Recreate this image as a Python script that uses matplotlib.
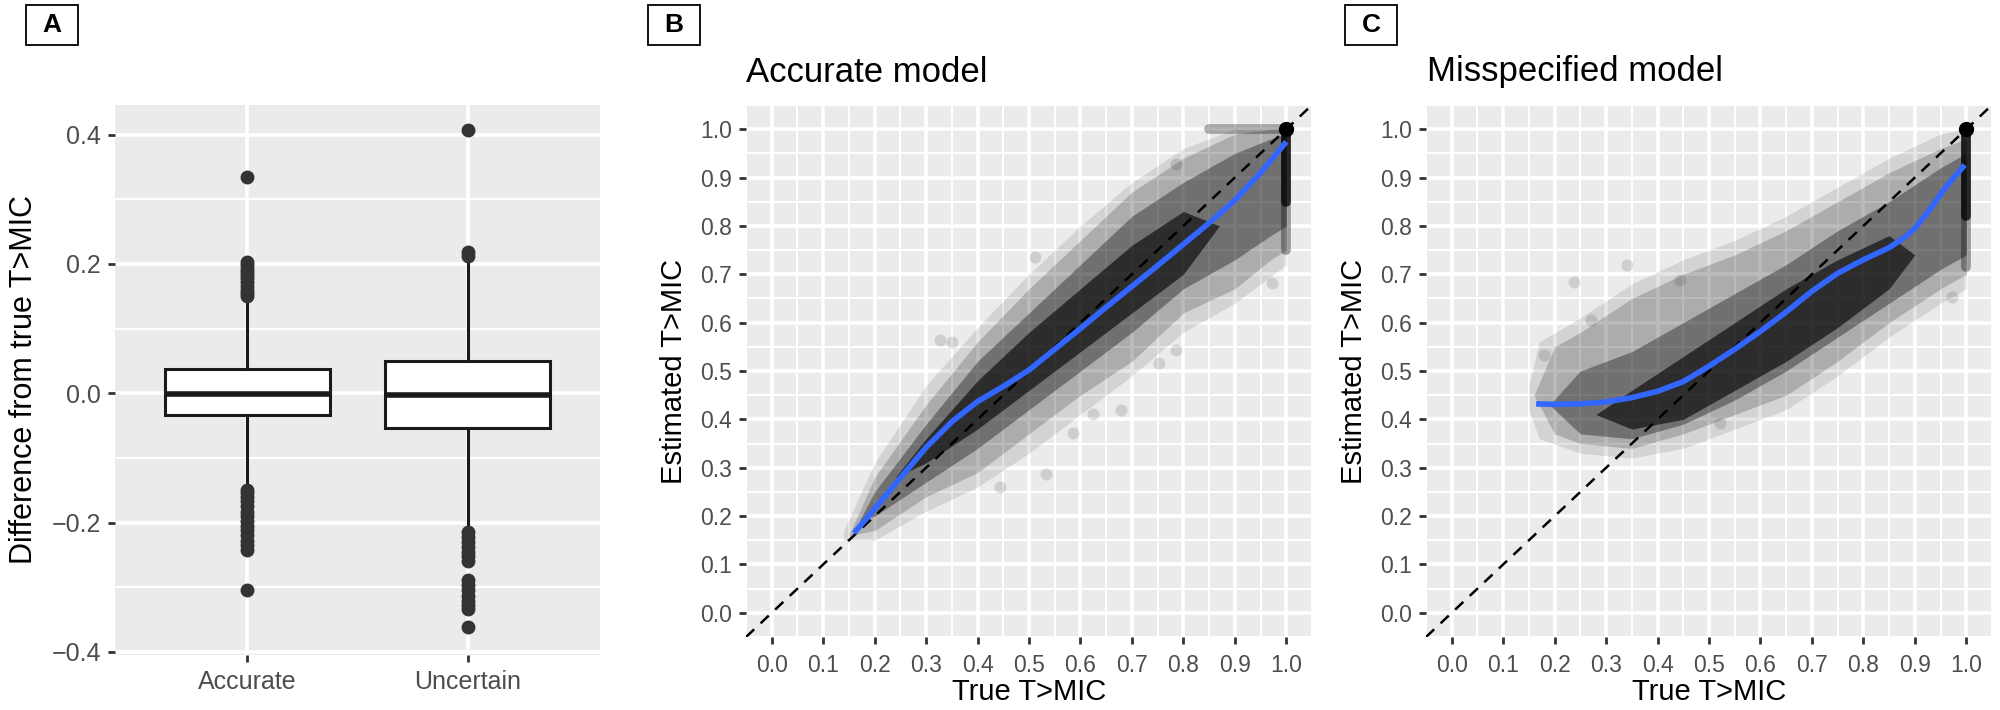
import matplotlib.pyplot as plt
from matplotlib.patches import Rectangle

plt.rcParams['font.family'] = ['Liberation Sans', 'DejaVu Sans']

W, H = 2000, 710

# ---- panel A: box summaries
groups = ['Accurate', 'Uncertain']
box_q1 = [-0.034, -0.0545]
box_med = [-0.001, -0.002]
box_q3 = [0.038, 0.0505]
whisk_lo = [-0.144, -0.212]
whisk_hi = [0.146, 0.208]
fliers_acc = [0.334, 0.203, 0.198, 0.193, 0.188, 0.183, 0.178, 0.172, 0.166,
              0.160, 0.155, 0.150, -0.150, -0.155, -0.160, -0.167, -0.175,
              -0.183, -0.190, -0.197, -0.205, -0.212, -0.220, -0.228, -0.235,
              -0.242, -0.305]
fliers_unc = [0.408, 0.218, 0.213, -0.215, -0.222, -0.230, -0.238, -0.245,
              -0.252, -0.260, -0.289, -0.297, -0.305, -0.313, -0.321, -0.328,
              -0.334, -0.362]

# ---- panel B: accurate model
b_loess_x = [0.16, 0.2, 0.25, 0.3, 0.35, 0.4, 0.45, 0.5, 0.55, 0.6, 0.65,
             0.7, 0.75, 0.8, 0.85, 0.9, 0.95, 1.0]
b_loess_y = [0.165, 0.215, 0.279, 0.342, 0.395, 0.437, 0.468, 0.502, 0.545,
             0.588, 0.632, 0.675, 0.718, 0.762, 0.806, 0.853, 0.91, 0.974]
b_fringe_x = [0.14, 0.2, 0.3, 0.4, 0.5, 0.6, 0.7, 0.8, 0.9, 1.0]
b_fringe_lo = [0.15, 0.15, 0.21, 0.26, 0.33, 0.41, 0.49, 0.58, 0.64, 0.72]
b_fringe_hi = [0.17, 0.31, 0.47, 0.59, 0.70, 0.80, 0.89, 0.96, 1.0, 1.0]
b_outer_x = [0.15, 0.2, 0.3, 0.4, 0.5, 0.6, 0.7, 0.8, 0.9, 0.97, 1.0]
b_outer_lo = [0.16, 0.17, 0.24, 0.29, 0.37, 0.45, 0.52, 0.62, 0.67, 0.73, 0.75]
b_outer_hi = [0.16, 0.28, 0.43, 0.56, 0.67, 0.77, 0.87, 0.94, 0.99, 1.0, 1.0]
b_mid_x = [0.17, 0.2, 0.3, 0.4, 0.5, 0.6, 0.7, 0.8, 0.9, 0.97, 1.0]
b_mid_lo = [0.19, 0.20, 0.27, 0.34, 0.42, 0.50, 0.58, 0.67, 0.73, 0.78, 0.80]
b_mid_hi = [0.19, 0.25, 0.39, 0.52, 0.62, 0.72, 0.82, 0.89, 0.95, 0.98, 0.99]
b_core_x = [0.24, 0.3, 0.4, 0.5, 0.6, 0.7, 0.8, 0.87]
b_core_lo = [0.28, 0.31, 0.38, 0.46, 0.54, 0.62, 0.70, 0.80]
b_core_hi = [0.28, 0.36, 0.48, 0.58, 0.67, 0.76, 0.83, 0.80]
b_strip_lo = [0.75, 0.85]      # vertical pile-up at true = 1.0
b_hstrip_x = [0.85, 1.0]       # horizontal pile-up at estimated = 1.0
b_pts_x = [0.328, 0.350, 0.444, 0.534, 0.585, 0.624, 0.679, 0.753, 0.785, 0.972, 0.785, 0.511]
b_pts_y = [0.564, 0.560, 0.260, 0.288, 0.371, 0.412, 0.419, 0.516, 0.543, 0.681, 0.929, 0.736]

# ---- panel C: misspecified model
c_loess_x = [0.164, 0.2, 0.25, 0.3, 0.35, 0.4, 0.45, 0.5, 0.55, 0.6, 0.65,
             0.7, 0.75, 0.8, 0.85, 0.88, 0.9, 0.93, 0.96, 0.997]
c_loess_y = [0.432, 0.431, 0.432, 0.436, 0.445, 0.458, 0.478, 0.510, 0.545,
             0.582, 0.622, 0.665, 0.702, 0.730, 0.755, 0.776, 0.795, 0.835,
             0.880, 0.926]
c_fringe_x = [0.15, 0.17, 0.25, 0.35, 0.45, 0.55, 0.65, 0.75, 0.85, 0.95, 1.0]
c_fringe_lo = [0.42, 0.36, 0.33, 0.32, 0.34, 0.38, 0.42, 0.49, 0.57, 0.64, 0.67]
c_fringe_hi = [0.47, 0.56, 0.61, 0.68, 0.73, 0.77, 0.82, 0.88, 0.94, 0.99, 1.0]
c_outer_x = [0.16, 0.2, 0.25, 0.35, 0.45, 0.55, 0.65, 0.75, 0.85, 0.95, 1.0]
c_outer_lo = [0.45, 0.37, 0.35, 0.34, 0.37, 0.41, 0.45, 0.52, 0.60, 0.67, 0.70]
c_outer_hi = [0.45, 0.55, 0.58, 0.65, 0.70, 0.74, 0.79, 0.85, 0.91, 0.96, 0.98]
c_mid_x = [0.19, 0.25, 0.35, 0.45, 0.55, 0.65, 0.75, 0.85, 0.95, 1.0]
c_mid_lo = [0.43, 0.37, 0.36, 0.39, 0.44, 0.50, 0.57, 0.64, 0.71, 0.74]
c_mid_hi = [0.43, 0.50, 0.54, 0.60, 0.66, 0.72, 0.79, 0.85, 0.92, 0.95]
c_core_x = [0.28, 0.35, 0.45, 0.55, 0.65, 0.75, 0.85, 0.9]
c_core_lo = [0.41, 0.38, 0.40, 0.46, 0.52, 0.59, 0.67, 0.74]
c_core_hi = [0.41, 0.46, 0.53, 0.60, 0.67, 0.73, 0.78, 0.74]
c_strip_lo = [0.715, 0.82]
c_pts_x = [0.238, 0.341, 0.180, 0.444, 0.270, 0.972, 0.521]
c_pts_y = [0.685, 0.719, 0.533, 0.688, 0.605, 0.653, 0.392]

ticks01 = [0.0, 0.1, 0.2, 0.3, 0.4, 0.5, 0.6, 0.7, 0.8, 0.9, 1.0]
minor01 = [-0.05, 0.05, 0.15, 0.25, 0.35, 0.45, 0.55, 0.65, 0.75, 0.85, 0.95, 1.05]


def px_axes(fig, left, top, right, bottom):
    return fig.add_axes([left / W, 1 - bottom / H, (right - left) / W, (bottom - top) / H])


def gg_style(ax, size):
    ax.set_facecolor('#EBEBEB')
    for s in ax.spines.values():
        s.set_visible(False)
    ax.grid(which='major', color='white', lw=2.6)
    ax.grid(which='minor', color='white', lw=1.5)
    ax.set_axisbelow(True)
    ax.tick_params(which='major', length=5, width=2, color='#333333',
                   labelcolor='#4D4D4D', labelsize=size, pad=5)
    ax.tick_params(which='minor', length=0)


def label_box(fig, cx, letter):
    fig.add_artist(Rectangle(((cx - 26) / W, 1 - 45 / H), 52 / W, 40 / H,
                             transform=fig.transFigure, fill=False, lw=1.3, ec='black'))
    fig.text(cx / W, 1 - 25 / H, letter, ha='center', va='center',
             fontsize=19, fontweight='bold')


def scatter_panel(ax, bands, strip_lo, pts_x, pts_y, lx, ly, hstrip=None):
    gg_style(ax, 16.5)
    ax.set_xlim(-0.05, 1.05)
    ax.set_ylim(-0.05, 1.05)
    ax.set_xticks(ticks01)
    ax.set_yticks(ticks01)
    ax.set_xticks(minor01, minor=True)
    ax.set_yticks(minor01, minor=True)
    ax.set_xticklabels(['%.1f' % t for t in ticks01])
    ax.set_yticklabels(['%.1f' % t for t in ticks01])
    ax.tick_params(axis='x', pad=7)
    # point cloud drawn as stacked translucent bands
    for bx, lo, hi, a in bands:
        ax.fill_between(bx, lo, hi, color='black', alpha=a, lw=0)
    ax.scatter(pts_x, pts_y, s=75, color='black', alpha=0.12, lw=0)
    ax.plot([1.0, 1.0], [strip_lo[0], 1.0], color='black', alpha=0.35, lw=7,
            solid_capstyle='round')
    ax.plot([1.0, 1.0], [strip_lo[1], 1.0], color='black', alpha=0.75, lw=7,
            solid_capstyle='round')
    if hstrip is not None:
        ax.plot(hstrip, [1.0, 1.0], color='black', alpha=0.3, lw=7,
                solid_capstyle='round')
    ax.plot([1.0], [1.0], 'o', color='black', ms=10)
    ax.plot([-0.05, 1.05], [-0.05, 1.05], color='black', lw=1.8,
            dashes=(4.5, 3.5))
    ax.plot(lx, ly, color='#3366FF', lw=4, solid_capstyle='butt')


fig = plt.figure(figsize=(W / 100, H / 100), dpi=100)

# ---- A
axA = px_axes(fig, 115, 105, 600, 655)
gg_style(axA, 18)
stats = []
for i, fl in enumerate([fliers_acc, fliers_unc]):
    stats.append(dict(med=box_med[i], q1=box_q1[i], q3=box_q3[i],
                      whislo=whisk_lo[i], whishi=whisk_hi[i], fliers=fl))
axA.bxp(stats, positions=[1, 2], widths=0.75, patch_artist=True, showcaps=False,
        boxprops=dict(facecolor='white', edgecolor='#1A1A1A', lw=2.2),
        whiskerprops=dict(color='#1A1A1A', lw=2.2),
        medianprops=dict(color='#1A1A1A', lw=4),
        flierprops=dict(marker='o', mfc='#333333', mec='#333333', ms=9))
axA.set_xlim(0.4, 2.6)
axA.set_ylim(-0.405, 0.446)
axA.set_xticks([1, 2])
axA.set_xticklabels(groups)
axA.set_yticks([-0.4, -0.2, 0.0, 0.2, 0.4])
axA.set_yticklabels(['\u22120.4', '\u22120.2', '0.0', '0.2', '0.4'])
axA.set_yticks([-0.3, -0.1, 0.1, 0.3], minor=True)
axA.tick_params(axis='x', pad=6)
fig.text(24 / W, 1 - 380 / H, 'Difference from true T>MIC', rotation=90,
         ha='center', va='center', fontsize=22)
label_box(fig, 52, 'A')

# ---- B
axB = px_axes(fig, 746, 105, 1312, 637)
scatter_panel(axB,
              [(b_fringe_x, b_fringe_lo, b_fringe_hi, 0.1),
               (b_outer_x, b_outer_lo, b_outer_hi, 0.18),
               (b_mid_x, b_mid_lo, b_mid_hi, 0.35),
               (b_core_x, b_core_lo, b_core_hi, 0.6)],
              b_strip_lo, b_pts_x, b_pts_y, b_loess_x, b_loess_y, hstrip=b_hstrip_x)
fig.text(746 / W, 1 - 73 / H, 'Accurate model', ha='left', va='center', fontsize=25)
fig.text(674 / W, 1 - 371 / H, 'Estimated T>MIC', rotation=90, ha='center',
         va='center', fontsize=21)
fig.text(1029 / W, 1 - 692 / H, 'True T>MIC', ha='center', va='center', fontsize=21)
label_box(fig, 674, 'B')

# ---- C
axC = px_axes(fig, 1426, 105, 1992, 637)
scatter_panel(axC,
              [(c_fringe_x, c_fringe_lo, c_fringe_hi, 0.1),
               (c_outer_x, c_outer_lo, c_outer_hi, 0.18),
               (c_mid_x, c_mid_lo, c_mid_hi, 0.35),
               (c_core_x, c_core_lo, c_core_hi, 0.6)],
              c_strip_lo, c_pts_x, c_pts_y, c_loess_x, c_loess_y)
fig.text(1427 / W, 1 - 72 / H, 'Misspecified model', ha='left', va='center', fontsize=25)
fig.text(1354 / W, 1 - 371 / H, 'Estimated T>MIC', rotation=90, ha='center',
         va='center', fontsize=21)
fig.text(1709 / W, 1 - 692 / H, 'True T>MIC', ha='center', va='center', fontsize=21)
label_box(fig, 1371, 'C')

fig.savefig('out.png', dpi=100)
